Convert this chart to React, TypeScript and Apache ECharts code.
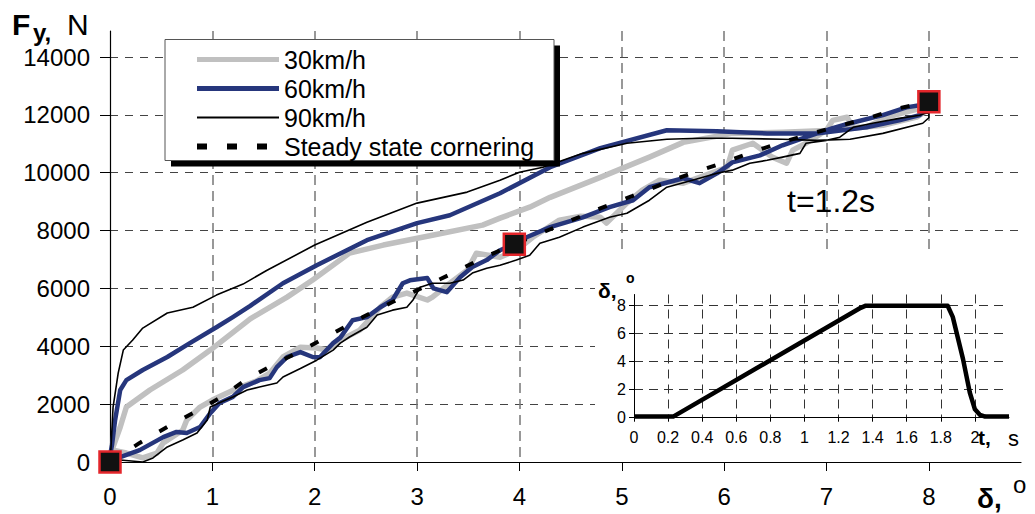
import React, { useEffect, useRef } from "react";
import * as echarts from "echarts";

// ---- Main chart data: δ (deg) vs Fy (N) ----
const xTicks = [0, 1, 2, 3, 4, 5, 6, 7, 8];
const yTicks = [0, 2000, 4000, 6000, 8000, 10000, 12000, 14000];

// 30 km/h: upper (transient) branch then lower branch (reversed)
const v30Upper: number[][] = [
  [0, 0], [0.03, 520], [0.1, 1210], [0.16, 1900], [0.39, 2490], [0.71, 3180], [0.98, 3870],
  [1.37, 4950], [1.73, 5700], [1.98, 6290], [2.34, 7220], [2.67, 7500], [3.15, 7840],
  [3.64, 8190], [3.81, 8430], [4.1, 8810], [4.3, 9150], [4.79, 9840], [5.27, 10540],
  [5.6, 11050], [6.08, 11360], [6.57, 11400], [7.06, 11470], [7.55, 11640], [7.88, 11920], [8.0, 12200],
];
const v30Lower: number[][] = [
  [0, 0], [0.03, 410], [0.16, 310], [0.32, 140], [0.46, 310], [0.52, 660], [0.71, 1100],
  [0.75, 1450], [0.88, 1900], [1.0, 2140], [1.14, 2380], [1.27, 2590], [1.43, 2800],
  [1.56, 3070], [1.69, 3630], [1.86, 3970], [2.02, 3940], [2.12, 3870], [2.25, 4210],
  [2.44, 4560], [2.64, 5350], [2.76, 5700], [2.9, 5840], [3.1, 5600], [3.15, 5700],
  [3.32, 6180], [3.49, 6630], [3.58, 7220], [3.81, 7080], [3.97, 7320], [4.13, 7770],
  [4.39, 8360], [4.6, 8500], [4.79, 8460], [4.85, 8260], [5.05, 8950], [5.2, 9400],
  [5.37, 9740], [5.6, 9640], [5.76, 9840], [6.03, 10190], [6.08, 10780], [6.28, 11020],
  [6.47, 10540], [6.61, 10330], [6.67, 10780], [6.8, 11020], [7.0, 11470], [7.06, 11810],
  [7.2, 11920], [7.26, 11570], [7.39, 11570], [7.59, 11920], [7.84, 12160], [7.97, 12260], [8.0, 12400],
];

// 60 km/h
const v60Upper: number[][] = [
  [0, 0], [0, 200], [0.02, 600], [0.05, 1450], [0.1, 2490], [0.16, 2830], [0.32, 3180],
  [0.56, 3630], [0.78, 4110], [1.04, 4660], [1.2, 5010], [1.37, 5400], [1.69, 6180],
  [2.02, 6800], [2.51, 7670], [3.0, 8260], [3.32, 8530], [3.81, 9290], [4.3, 10190],
  [4.79, 10850], [5.44, 11470], [5.93, 11430], [6.42, 11360], [6.9, 11360], [7.39, 11570],
  [7.71, 11810], [7.91, 11990], [8.0, 12300],
];
const v60Lower: number[][] = [
  [0, 0], [0.1, 170], [0.29, 410], [0.52, 860], [0.65, 1040], [0.75, 1000], [0.88, 1210],
  [0.98, 1690], [1.07, 2040], [1.2, 2250], [1.3, 2590], [1.46, 2830], [1.56, 2900],
  [1.63, 3280], [1.73, 3630], [1.86, 3800], [1.98, 3630], [2.05, 3620], [2.18, 4110],
  [2.25, 4300], [2.37, 4900], [2.51, 5010], [2.64, 5350], [2.76, 5600], [2.86, 6180],
  [2.93, 6280], [3.1, 6360], [3.13, 6180], [3.16, 6000], [3.29, 5870], [3.42, 6390],
  [3.54, 6740], [3.68, 6980], [3.81, 7320], [3.97, 7560], [4.07, 7770], [4.3, 8120],
  [4.62, 8460], [4.88, 8810], [5.11, 9050], [5.27, 9500], [5.6, 9810], [5.76, 9640],
  [5.93, 9980], [6.08, 10360], [6.35, 10600], [6.57, 10950], [6.8, 11230], [7.06, 11540],
  [7.23, 11710], [7.55, 11990], [7.78, 12260], [7.91, 12330], [8.0, 12450],
];

// 90 km/h
const v90Upper: number[][] = [
  [0, 0], [0.01, 520], [0.03, 1900], [0.08, 3070], [0.13, 3870], [0.22, 4210], [0.32, 4630],
  [0.56, 5150], [0.81, 5350], [1.04, 5770], [1.3, 6150], [1.53, 6620], [2.0, 7500],
  [2.51, 8290], [3.0, 8950], [3.49, 9330], [3.81, 9740], [4.0, 10020], [4.23, 10190],
  [4.62, 10670], [5.05, 11020], [5.44, 11160], [5.76, 11190], [6.08, 11190], [6.57, 11160],
  [6.9, 11120], [7.23, 11160], [7.55, 11360], [7.94, 11710], [8.0, 11900],
];
const v90Lower: number[][] = [
  [0, 0], [0.1, 70], [0.32, 0], [0.42, 140], [0.56, 520], [0.71, 760], [0.85, 1000],
  [0.95, 1450], [0.98, 1900], [1.07, 2050], [1.2, 2250], [1.34, 2490], [1.46, 2590],
  [1.63, 2730], [1.69, 2940], [1.86, 3230], [2.02, 3520], [2.18, 3870], [2.25, 4110],
  [2.34, 4320], [2.51, 4660], [2.61, 5080], [2.76, 5250], [2.9, 5350], [2.96, 5600],
  [3.03, 6040], [3.15, 6180], [3.32, 6180], [3.45, 6290], [3.54, 6530], [3.68, 6700],
  [3.81, 6800], [3.97, 6980], [4.1, 7150], [4.2, 7560], [4.39, 7770], [4.62, 8120],
  [4.88, 8460], [5.05, 8600], [5.27, 9050], [5.44, 9500], [5.69, 9740], [5.93, 9980],
  [6.08, 10090], [6.25, 10330], [6.42, 10430], [6.57, 10540], [6.74, 10670], [6.8, 11020],
  [7.0, 11120], [7.13, 11230], [7.26, 11570], [7.45, 11710], [7.71, 11880], [7.91, 11990], [8.0, 12100],
];

// Steady state cornering
const steadyState: number[][] = [
  [0, 0], [0.29, 660], [0.56, 1210], [0.83, 1730], [1.09, 2250], [1.35, 2900], [1.63, 3420],
  [1.92, 3940], [2.2, 4490], [2.47, 5010], [2.76, 5530], [3.06, 6040], [3.35, 6530],
  [3.64, 7050], [3.95, 7530], [4.23, 7940], [4.51, 8360], [4.79, 8770], [5.1, 9190],
  [5.37, 9570], [5.68, 9980], [5.98, 10330], [6.27, 10710], [6.56, 11050], [6.86, 11360],
  [7.15, 11640], [7.44, 11920], [7.71, 12230], [8, 12450],
];

// Highlighted points (red-bordered squares)
const markerPoints: number[][] = [[0, 0], [3.95, 7530], [8, 12450]];

// ---- Inset: steering input δ (deg) vs t (s) ----
const insetT = [0, 0.21, 0.23, 1.33, 1.36, 1.84, 1.87, 1.93, 1.97, 2.0, 2.03, 2.06, 2.2];
const insetDelta = [0.08, 0.08, 0.08, 7.85, 8.0, 8.0, 7.2, 4.2, 1.8, 0.6, 0.2, 0.08, 0.08];

const seriesNames = ["30km/h", "60km/h", "90km/h", "Steady state cornering"];

const loop = (upper: number[][], lower: number[][]) => upper.concat(lower.slice().reverse());

const FONT = '"Liberation Sans", Arial, sans-serif';

export default function App() {
  const ref = useRef<HTMLDivElement>(null);

  useEffect(() => {
    if (!ref.current) return;
    const chart = echarts.init(ref.current, undefined, { renderer: "svg" });

    const txt = (text: string, x: number, y: number, size: number, bold = false) => ({
      type: "text",
      x,
      y,
      z: 20,
      style: {
        text,
        fill: "#000",
        fontSize: size,
        fontWeight: bold ? "bold" : "normal",
        fontFamily: FONT,
        verticalAlign: "middle",
        align: "left",
      },
    });

    const legendData = seriesNames.map((name) =>
      name === "Steady state cornering"
        ? { name, lineStyle: { width: 6, type: [10, 20], cap: "butt" } }
        : name === "30km/h"
        ? { name, lineStyle: { width: 5 } }
        : name === "60km/h"
        ? { name, lineStyle: { width: 5 } }
        : { name, lineStyle: { width: 2 } }
    );

    const option: any = {
      animation: false,
      backgroundColor: "#fff",
      grid: [
        { left: 110, right: 14, top: 31, bottom: 52 },
        { left: 634, right: 26, top: 294.5, bottom: 96.3 },
      ],
      legend: {
        data: legendData,
        orient: "vertical",
        left: 189,
        top: 42,
        itemWidth: 82,
        itemHeight: 14,
        itemGap: 4,
        selectedMode: false,
        z: 12,
        itemStyle: { color: "rgba(0,0,0,0)", borderColor: "rgba(0,0,0,0)", borderWidth: 0, opacity: 0 },
        textStyle: { fontSize: 25, color: "#000", fontFamily: FONT },
      },
      xAxis: [
        {
          type: "value",
          gridIndex: 0,
          min: 0,
          max: 8.9,
          interval: 1,
          axisLine: { show: true, onZero: false, lineStyle: { color: "#000", width: 1.2 } },
          axisTick: { show: true, inside: false, length: 9, lineStyle: { color: "#000" } },
          axisLabel: {
            fontSize: 24,
            color: "#000",
            fontFamily: FONT,
            margin: 22,
            showMaxLabel: false,
            formatter: (v: number) => (xTicks.includes(v) ? String(v) : ""),
          },
          splitLine: {
            show: true,
            showMinLine: false,
            showMaxLine: false,
            lineStyle: { color: "#777", width: 1.5, type: [10, 6] },
          },
        },
        {
          type: "value",
          gridIndex: 1,
          min: 0,
          max: 2.2,
          interval: 0.2,
          z: 6,
          axisLine: { show: true, onZero: false, lineStyle: { color: "#000", width: 1 } },
          axisTick: { show: true, length: 4, lineStyle: { color: "#000" } },
          axisLabel: {
            fontSize: 16,
            color: "#000",
            fontFamily: FONT,
            margin: 12,
            showMaxLabel: false,
            formatter: (v: number) => (v > 2.01 ? "" : String(+v.toFixed(1))),
          },
          splitLine: {
            show: true,
            showMinLine: false,
            showMaxLine: false,
            lineStyle: { color: "#333", width: 1, type: [9, 6] },
          },
        },
      ],
      yAxis: [
        {
          type: "value",
          gridIndex: 0,
          min: 0,
          max: 14900,
          interval: 2000,
          axisLine: { show: true, onZero: false, lineStyle: { color: "#000", width: 1.2 } },
          axisTick: { show: true, length: 10, lineStyle: { color: "#000" } },
          axisLabel: {
            fontSize: 24,
            color: "#000",
            fontFamily: FONT,
            margin: 20,
            showMaxLabel: false,
            formatter: (v: number) => (yTicks.includes(v) ? String(v) : ""),
          },
          splitLine: {
            show: true,
            showMinLine: false,
            showMaxLine: false,
            lineStyle: { color: "#444", width: 1, type: [8, 7] },
          },
        },
        {
          type: "value",
          gridIndex: 1,
          min: 0,
          max: 8.8,
          interval: 2,
          z: 6,
          axisLine: { show: true, onZero: false, lineStyle: { color: "#000", width: 1 } },
          axisTick: { show: true, length: 5, lineStyle: { color: "#000" } },
          axisLabel: {
            fontSize: 16,
            color: "#000",
            fontFamily: FONT,
            margin: 8,
            showMaxLabel: false,
          },
          splitLine: {
            show: true,
            showMinLine: false,
            showMaxLine: false,
            lineStyle: { color: "#333", width: 1, type: [9, 6] },
          },
        },
      ],
      graphic: {
        elements: [
          // legend shadow & box
          { type: "rect", z: 10, shape: { x: 171, y: 45.5, width: 389, height: 121 }, style: { fill: "#000" } },
          { type: "rect", z: 11, shape: { x: 165, y: 39.5, width: 389, height: 121 }, style: { fill: "#fff", stroke: "#555", lineWidth: 1 } },
          // inset white background
          { type: "rect", z: 5, shape: { x: 595, y: 255, width: 440, height: 204 }, style: { fill: "#fff" } },
          // axis titles
          txt("F", 12, 24, 30, true),
          txt("y,", 33, 32, 24, true),
          txt("N", 67, 24, 30),
          txt("δ,", 977, 498, 28, true),
          txt("o", 1013, 484, 24),
          txt("δ,", 598, 290, 21, true),
          txt("o", 626, 278, 14, true),
          txt("t,", 978, 437, 21, true),
          txt("s", 1008, 438, 22),
          txt("t=1.2s", 787, 201, 32),
        ],
      },
      series: [
        {
          name: "30km/h",
          type: "line",
          xAxisIndex: 0,
          yAxisIndex: 0,
          data: loop(v30Upper, v30Lower),
          symbol: "none",
          lineStyle: { color: "#c0c0c0", width: 5.5, join: "round" },
          itemStyle: { color: "#c0c0c0" },
          z: 2,
        },
        {
          name: "60km/h",
          type: "line",
          xAxisIndex: 0,
          yAxisIndex: 0,
          data: loop(v60Upper, v60Lower),
          symbol: "none",
          lineStyle: { color: "#26367c", width: 4.5, join: "round" },
          itemStyle: { color: "#26367c" },
          z: 2,
        },
        {
          name: "90km/h",
          type: "line",
          xAxisIndex: 0,
          yAxisIndex: 0,
          data: loop(v90Upper, v90Lower),
          symbol: "none",
          lineStyle: { color: "#000", width: 1.6, join: "round" },
          itemStyle: { color: "#000" },
          z: 2,
        },
        {
          name: "Steady state cornering",
          type: "line",
          xAxisIndex: 0,
          yAxisIndex: 0,
          data: steadyState,
          symbol: "none",
          lineStyle: { color: "#000", width: 4, type: [9, 20], cap: "butt" },
          itemStyle: { color: "#000" },
          z: 3,
        },
        {
          name: "points",
          type: "scatter",
          xAxisIndex: 0,
          yAxisIndex: 0,
          data: markerPoints,
          symbol: "rect",
          symbolSize: 21,
          itemStyle: { color: "#111", borderColor: "#e3262b", borderWidth: 2.5, opacity: 1 },
          z: 4,
        },
        {
          name: "delta",
          type: "line",
          xAxisIndex: 1,
          yAxisIndex: 1,
          data: insetT.map((t, i) => [t, insetDelta[i]]),
          symbol: "none",
          lineStyle: { color: "#000", width: 4.5, join: "round" },
          z: 7,
        },
      ],
    };

    chart.setOption(option);
    return () => chart.dispose();
  }, []);

  return (
    <div
      ref={ref}
      style={{ position: "absolute", left: 0, top: 0, width: 1035, height: 514, background: "#fff" }}
    />
  );
}
